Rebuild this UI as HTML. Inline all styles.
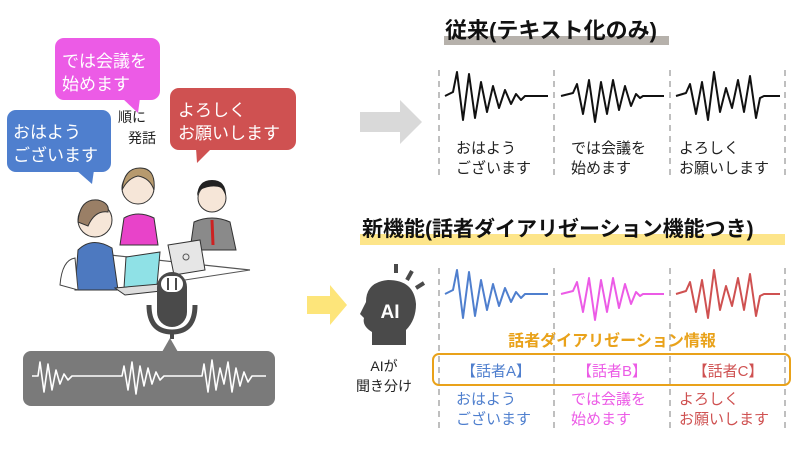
<!DOCTYPE html>
<html><head><meta charset="utf-8"><style>
body{margin:0;width:800px;height:451px;background:#fff;overflow:hidden;font-family:"Liberation Sans","Noto Sans CJK JP",sans-serif;}
svg text{font-family:"Liberation Sans","Noto Sans CJK JP",sans-serif;}
</style></head><body>
<svg width="800" height="451" viewBox="0 0 800 451" xmlns="http://www.w3.org/2000/svg">
<defs>
<path id="w1" d="M0,26 L8,22 L12,2 L18,50 L24,4 L30,48 L36,12 L42,42 L48,16 L54,38 L60,20 L66,34 L71,24 L76,30 L80,26 L103,26"/>
<path id="w2" d="M0,26 L12,23 L16,14 L22,44 L28,10 L34,52 L40,12 L46,44 L52,10 L58,40 L64,16 L70,36 L75,24 L79,28 L82,26 L103,26"/>
<path id="w3" d="M0,26 L10,23 L14,14 L20,44 L26,12 L32,50 L38,2 L44,42 L50,18 L56,38 L62,10 L68,42 L74,6 L80,48 L84,28 L88,26 L104,26"/>
</defs>
<!-- speech bubbles -->
<rect x="55" y="38" width="105" height="62" rx="9" fill="#ec5be6"/>
<polygon points="122,98 140,98 138,113" fill="#ec5be6"/>
<text x="62" y="67" font-size="17" fill="#fff">では会議を</text>
<text x="62" y="90" font-size="17" fill="#fff">始めます</text>
<rect x="7" y="110" width="104" height="62" rx="9" fill="#4f7fce"/>
<polygon points="76,170 94,170 92,184" fill="#4f7fce"/>
<text x="13" y="138" font-size="17" fill="#fff">おはよう</text>
<text x="13" y="161" font-size="17" fill="#fff">ございます</text>
<rect x="170" y="88" width="126" height="62" rx="9" fill="#cf5151"/>
<polygon points="196,148 212,148 197,163" fill="#cf5151"/>
<text x="178" y="116" font-size="17" fill="#fff">よろしく</text>
<text x="178" y="139" font-size="17" fill="#fff">お願いします</text>
<text x="118" y="122" font-size="14" fill="#222">順に</text>
<text x="128" y="143" font-size="14" fill="#222">発話</text>
<!-- people (simplified) -->
<line x1="110" y1="255" x2="250" y2="270" stroke="#555" stroke-width="1.2"/>
<line x1="120" y1="290" x2="250" y2="270" stroke="#555" stroke-width="1"/>
<circle cx="138" cy="188" r="16" fill="#f6e6d8" stroke="#333"/>
<path d="M122,190 Q124,168 140,168 Q156,168 154,190 Q150,178 138,176 Q128,178 122,190Z" fill="#b79a6e" stroke="#333"/>
<path d="M120,245 L124,218 Q138,210 154,218 L158,245Z" fill="#e843c9" stroke="#333"/>
<circle cx="212" cy="198" r="14" fill="#f6e6d8" stroke="#333"/>
<path d="M197,196 Q198,180 212,180 Q226,180 226,196 L222,188 Q212,184 200,190Z" fill="#222"/>
<path d="M190,250 L194,222 Q212,214 230,222 L236,250Z" fill="#8a8a8a" stroke="#333"/>
<line x1="212" y1="220" x2="213" y2="245" stroke="#c22" stroke-width="3"/>
<circle cx="95" cy="220" r="17" fill="#f6e6d8" stroke="#333"/>
<path d="M78,222 Q80,198 98,200 Q110,203 108,212 Q95,210 88,226Z" fill="#9a7f66" stroke="#333"/>
<path d="M75,290 L78,250 Q92,236 112,248 L118,290Z" fill="#4d79c0" stroke="#333"/>
<path d="M60,285 Q62,260 75,258 L78,290Z" fill="#fff" stroke="#444"/>
<polygon points="126,257 160,252 157,285 124,288" fill="#8fe1e6" stroke="#333"/>
<polygon points="115,288 160,284 170,290 125,295" fill="#ddd" stroke="#333"/>
<polygon points="168,245 200,240 205,270 174,275" fill="#e6e6e6" stroke="#333"/>
<circle cx="186" cy="257" r="3" fill="none" stroke="#555"/>
<!-- mic -->
<rect x="157" y="272" width="30" height="55" rx="15" fill="#4a4a4a"/>
<rect x="161" y="276" width="22" height="16" rx="8" fill="#fff"/>
<line x1="168" y1="278" x2="168" y2="290" stroke="#4a4a4a" stroke-width="2"/>
<line x1="176" y1="278" x2="176" y2="290" stroke="#4a4a4a" stroke-width="2"/>
<path d="M149,305 Q149,332 172,332 Q195,332 195,305" fill="none" stroke="#4a4a4a" stroke-width="5"/>
<line x1="172" y1="332" x2="172" y2="339" stroke="#4a4a4a" stroke-width="4"/>
<!-- gray waveform box -->
<rect x="23" y="351" width="252" height="55" rx="8" fill="#7a7a7a"/>
<polygon points="162,352 178,352 170,338" fill="#7a7a7a"/>
<polyline points="32,376 38,376 40,362 44,392 48,364 52,390 56,370 60,384 64,374 68,380 72,376 118,376 122,376 124,366 128,390 132,362 136,394 140,366 144,386 148,368 152,384 156,372 160,380 164,376 198,376 202,376 204,364 208,392 212,360 216,390 220,368 224,384 228,362 232,392 236,368 240,386 244,372 248,382 252,376 266,376" fill="none" stroke="#fff" stroke-width="1.6" stroke-linejoin="round"/>
<!-- arrows -->
<polygon points="360,112 400,112 400,100 422,122 400,144 400,132 360,132" fill="#d9d9d9"/>
<polygon points="307,296 330,296 330,285 347,305 330,325 330,314 307,314" fill="#fde57a"/>
<!-- top section -->
<rect x="444" y="36" width="225" height="9" fill="#b6b1ab"/>
<text x="445" y="38" font-size="22" font-weight="bold" fill="#111">従来(テキスト化のみ)</text>
<g stroke="#aaa" stroke-width="1.5" stroke-dasharray="6,5">
<line x1="439" y1="70" x2="439" y2="176"/><line x1="554" y1="70" x2="554" y2="176"/>
<line x1="670" y1="70" x2="670" y2="176"/><line x1="785" y1="70" x2="785" y2="176"/>
</g>
<g fill="none" stroke="#111" stroke-width="2" stroke-linejoin="round">
<use href="#w1" x="445" y="70"/>
<use href="#w2" x="561" y="70"/>
<use href="#w3" x="676" y="70"/>
</g>
<g font-size="15" fill="#222">
<text x="456" y="153">おはよう</text><text x="456" y="173">ございます</text>
<text x="571" y="153">では会議を</text><text x="571" y="173">始めます</text>
<text x="679" y="153">よろしく</text><text x="679" y="173">お願いします</text>
</g>
<!-- bottom section -->
<rect x="360" y="234" width="425" height="11" fill="#fde58a"/>
<text x="362" y="236" font-size="21" font-weight="bold" fill="#111">新機能(話者ダイアリゼーション機能つき)</text>
<g stroke="#aaa" stroke-width="1.5" stroke-dasharray="6,5">
<line x1="439" y1="268" x2="439" y2="432"/><line x1="554" y1="268" x2="554" y2="432"/>
<line x1="670" y1="268" x2="670" y2="432"/><line x1="785" y1="268" x2="785" y2="432"/>
</g>
<g fill="none" stroke-width="2" stroke-linejoin="round">
<use href="#w1" x="445" y="268" stroke="#4f7fce"/>
<use href="#w2" x="561" y="268" stroke="#ec5be6"/>
<use href="#w3" x="676" y="268" stroke="#cf5151"/>
</g>
<text x="612" y="346" font-size="16" font-weight="bold" fill="#e9a21a" text-anchor="middle">話者ダイアリゼーション情報</text>
<rect x="433" y="354" width="357" height="31" rx="6" fill="none" stroke="#e9a21a" stroke-width="2"/>
<text x="496" y="376" font-size="15" fill="#4f7fce" text-anchor="middle">【話者A】</text>
<text x="612" y="376" font-size="15" fill="#ec5be6" text-anchor="middle">【話者B】</text>
<text x="728" y="376" font-size="15" fill="#cf5151" text-anchor="middle">【話者C】</text>
<g font-size="15">
<text x="456" y="404" fill="#4f7fce">おはよう</text><text x="456" y="424" fill="#4f7fce">ございます</text>
<text x="571" y="404" fill="#ec5be6">では会議を</text><text x="571" y="424" fill="#ec5be6">始めます</text>
<text x="679" y="404" fill="#cf5151">よろしく</text><text x="679" y="424" fill="#cf5151">お願いします</text>
</g>
<!-- AI head -->
<path d="M372,345 L372,332 Q362,326 364,318 L360,314 Q364,306 366,302 Q366,282 388,280 Q414,280 416,304 Q416,320 406,330 L406,345Z" fill="#4a4a4a"/>
<text x="390" y="318" font-size="19" font-weight="bold" fill="#fff" text-anchor="middle">AI</text>
<g stroke="#4a4a4a" stroke-width="4"><line x1="396" y1="264" x2="396" y2="273"/><line x1="412" y1="271" x2="407" y2="280"/><line x1="424" y1="283" x2="416" y2="288"/></g>
<text x="384" y="371" font-size="14" fill="#222" text-anchor="middle">AIが</text>
<text x="384" y="391" font-size="14" fill="#222" text-anchor="middle">聞き分け</text>
</svg>
</body></html>
